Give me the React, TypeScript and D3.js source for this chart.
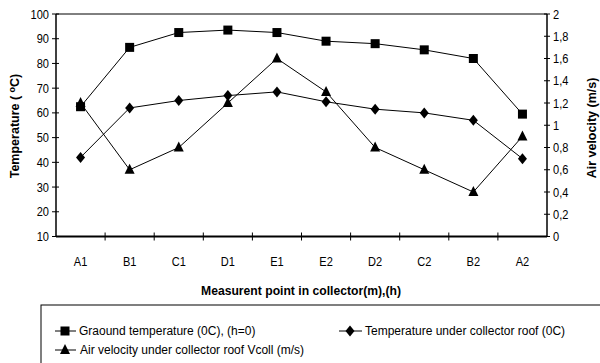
import * as d3 from "d3";

const categories = ["A1", "B1", "C1", "D1", "E1", "E2", "D2", "C2", "B2", "A2"];
const groundTemp = [62.5, 86.5, 92.5, 93.5, 92.5, 89, 88, 85.5, 82, 59.5];
const roofTemp = [42, 62, 65, 67, 68.5, 64.5, 61.5, 60, 57, 41.5];
const airVelocity = [1.2, 0.6, 0.8, 1.2, 1.6, 1.3, 0.8, 0.6, 0.4, 0.9];
const leftTicks = [10, 20, 30, 40, 50, 60, 70, 80, 90, 100];
const rightTicks = [0, 0.2, 0.4, 0.6, 0.8, 1, 1.2, 1.4, 1.6, 1.8, 2];

const width = 600;
const height = 363;
const left = 56;
const right = 547;
const top = 14;
const bottom = 236.5;
const font = "'Liberation Sans', Arial, sans-serif";

function Marker({ type, x, y }: { type: string; x: number; y: number }) {
  if (type === "square") return <rect x={x - 4.5} y={y - 4.5} width={9} height={9} fill="#000" />;
  if (type === "diamond") return <path d={`M${x},${y - 5.5}L${x + 4.5},${y}L${x},${y + 5.5}L${x - 4.5},${y}Z`} fill="#000" />;
  return <path d={`M${x},${y - 6}L${x + 5},${y + 4}L${x - 5},${y + 4}Z`} fill="#000" />;
}

// narrow-ish text: squeeze glyphs horizontally like Arial Narrow
function Narrow({ x, y, anchor = "start", size = 12, children }: { x: number; y: number; anchor?: string; size?: number; children: any }) {
  return (
    <text transform={`translate(${x},${y}) scale(0.85,1)`} dy="0.35em" textAnchor={anchor} fontFamily={font} fontSize={size}>
      {children}
    </text>
  );
}

export default function App() {
  const x = d3.scaleBand().domain(categories).range([left, right]);
  const yL = d3.scaleLinear().domain([10, 100]).range([bottom, top]);
  const yR = d3.scaleLinear().domain([0, 2]).range([bottom, top]);
  const cx = (c: string) => (x(c) as number) + x.bandwidth() / 2;

  const series = [
    { values: groundTemp, y: yL, type: "square" },
    { values: roofTemp, y: yL, type: "diamond" },
    { values: airVelocity, y: yR, type: "triangle" },
  ];

  const line = (vals: number[], y: d3.ScaleLinear<number, number>) =>
    d3.line<number>().x((_, i) => cx(categories[i])).y((d) => y(d))(vals) as string;

  const bounds = categories.map((c) => x(c) as number).slice(1);

  return (
    <svg width={width} height={height} style={{ position: "absolute", left: 0, top: 0, background: "#fff" }}>
      <rect x={0} y={0} width={width} height={height} fill="#fff" />
      {/* plot frame */}
      <line x1={left} x2={right} y1={top} y2={top} stroke="#000" strokeWidth={1} />
      <line x1={left} x2={left} y1={top} y2={bottom} stroke="#000" strokeWidth={1.5} />
      <line x1={right} x2={right} y1={top} y2={bottom} stroke="#000" strokeWidth={1.5} />
      <line x1={left} x2={right} y1={bottom} y2={bottom} stroke="#000" strokeWidth={2} />

      {leftTicks.map((t) => (
        <g key={"l" + t}>
          <line x1={left - 4} x2={left + 3} y1={yL(t)} y2={yL(t)} stroke="#000" />
          <Narrow x={left - 7} y={yL(t)} anchor="end" size={13}>{t}</Narrow>
        </g>
      ))}
      {rightTicks.map((t) => (
        <g key={"r" + t}>
          <line x1={right - 3} x2={right + 3} y1={yR(t)} y2={yR(t)} stroke="#000" />
          <Narrow x={right + 6} y={yR(t)} size={13}>
            {String(Math.round(t * 10) / 10).replace(".", ",")}
          </Narrow>
        </g>
      ))}
      {bounds.map((b, i) => (
        <line key={"x" + i} x1={b} x2={b} y1={bottom - 4} y2={bottom + 4} stroke="#000" />
      ))}
      {categories.map((c) => (
        <Narrow key={c} x={cx(c)} y={261} anchor="middle" size={13}>{c}</Narrow>
      ))}

      {series.map((s, si) => (
        <g key={si}>
          <path d={line(s.values, s.y)} fill="none" stroke="#000" strokeWidth={1} />
          {s.values.map((v, i) => (
            <Marker key={i} type={s.type} x={cx(categories[i])} y={s.y(v)} />
          ))}
        </g>
      ))}

      {/* axis titles */}
      <text x={301} y={290} dy="0.35em" textAnchor="middle" fontFamily={font} fontWeight="bold" fontSize={13}
        textLength={200} lengthAdjust="spacingAndGlyphs">
        Measurent point in collector(m),(h)
      </text>
      <text transform="translate(15,126) rotate(-90)" textAnchor="middle" dy="0.35em" fontFamily={font} fontWeight="bold" fontSize={12.5}>
        Temperature (  <tspan dy="-4" fontSize={9}>o</tspan><tspan dy="4">C)</tspan>
      </text>
      <text transform="translate(592,128) rotate(-90)" textAnchor="middle" dy="0.35em" fontFamily={font} fontWeight="bold" fontSize={12.5}>
        Air velocity (m/s)
      </text>

      {/* legend */}
      <rect x={41} y={305} width={570} height={70} fill="#fff" stroke="#000" strokeWidth={1} />
      <line x1={55} x2={76} y1={331} y2={331} stroke="#000" />
      <Marker type="square" x={65} y={331} />
      <text x={79} y={331} dy="0.35em" fontFamily={font} fontSize={12}>
        Graound temperature (0C), (h=0)
      </text>
      <line x1={339} x2={362} y1={331} y2={331} stroke="#000" />
      <Marker type="diamond" x={350} y={331} />
      <text x={365} y={331} dy="0.35em" fontFamily={font} fontSize={12}>
        Temperature under collector roof (0C)
      </text>
      <line x1={55} x2={76} y1={350} y2={350} stroke="#000" />
      <Marker type="triangle" x={65} y={350} />
      <text x={80} y={350} dy="0.35em" fontFamily={font} fontSize={12}>
        Air velocity under collector roof Vcoll (m/s)
      </text>
    </svg>
  );
}
